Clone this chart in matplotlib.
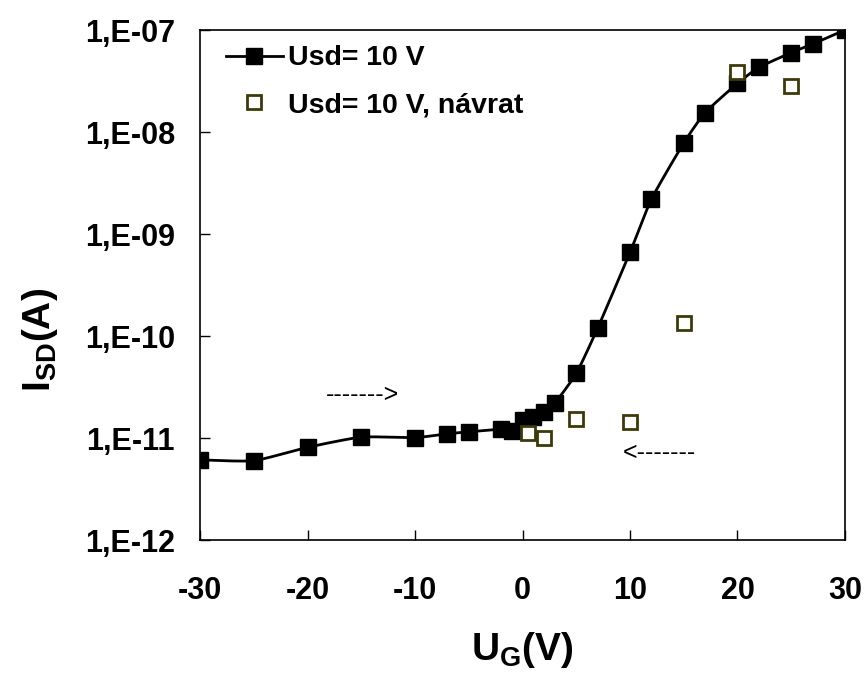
import numpy as np
import matplotlib
matplotlib.use("Agg")
import matplotlib.pyplot as plt
from matplotlib.lines import Line2D

plt.rcParams['font.family'] = ['Liberation Sans', 'DejaVu Sans']
plt.rcParams['font.weight'] = 'bold'
plt.rcParams['mathtext.fontset'] = 'custom'
plt.rcParams['mathtext.bf'] = 'Liberation Sans:bold'
plt.rcParams['mathtext.rm'] = 'Liberation Sans:bold'

# Forward sweep, Usd = 10 V
ug_fwd = [-30, -25, -20, -15, -10, -7, -5, -2, -1, 0, 1, 2, 3, 5, 7, 10, 12, 15, 17, 20, 22, 25, 27, 30]
isd_fwd = [6.1e-12, 6.0e-12, 8.1e-12, 1.02e-11, 1.01e-11, 1.1e-11, 1.15e-11, 1.22e-11, 1.18e-11,
           1.5e-11, 1.6e-11, 1.8e-11, 2.2e-11, 4.3e-11, 1.2e-10, 6.6e-10, 2.2e-09, 7.8e-09,
           1.55e-08, 3.0e-08, 4.3e-08, 6.0e-08, 7.3e-08, 1.0e-07]

# Return sweep, Usd = 10 V
ug_ret = [0.5, 2, 5, 10, 15, 20, 25]
isd_ret = [1.12e-11, 1.0e-11, 1.52e-11, 1.45e-11, 1.33e-10, 3.9e-08, 2.85e-08]

ytick_vals = [1e-12, 1e-11, 1e-10, 1e-9, 1e-8, 1e-7]
ytick_labels = ['1,E-12', '1,E-11', '1,E-10', '1,E-09', '1,E-08', '1,E-07']
xtick_vals = [-30, -20, -10, 0, 10, 20, 30]


def smooth_curve(x, y, n=30):
    """Cardinal spline through the points, in (x, log10 y)."""
    P = np.column_stack([np.asarray(x, float), np.log10(np.asarray(y, float))])
    P = np.vstack([2 * P[0] - P[1], P, 2 * P[-1] - P[-2]])
    t = np.linspace(0, 1, n)
    h00 = 2 * t**3 - 3 * t**2 + 1
    h10 = t**3 - 2 * t**2 + t
    h01 = -2 * t**3 + 3 * t**2
    h11 = t**3 - t**2
    out = []
    for i in range(1, len(P) - 2):
        p0, p1, p2, p3 = P[i - 1], P[i], P[i + 1], P[i + 2]
        m1 = (p2 - p0) / 2 * 0.6
        m2 = (p3 - p1) / 2 * 0.6
        out.append(np.outer(h00, p1) + np.outer(h10, m1) + np.outer(h01, p2) + np.outer(h11, m2))
    c = np.vstack(out)
    return c[:, 0], 10 ** c[:, 1]


fig = plt.figure(figsize=(8.64, 6.73), dpi=100)
ax = fig.add_axes([0.2315, 0.1976, 0.7465, 0.7578])

cx, cy = smooth_curve(ug_fwd, isd_fwd)
ax.plot(cx, cy, color='black', lw=2, zorder=2)
ax.plot(ug_fwd, isd_fwd, ls='none', marker='s', ms=11.5, mfc='black', mec='black', zorder=3)
ax.plot(ug_ret, isd_ret, ls='none', marker='s', ms=10.5, mfc='white', mec='#3d3a0a', mew=2, zorder=4)

ax.set_yscale('log')
ax.set_xlim(-30, 30)
ax.set_ylim(1e-12, 1e-7)
ax.set_xticks(xtick_vals)
ax.set_xticklabels([str(v) for v in xtick_vals])
ax.set_yticks(ytick_vals)
ax.set_yticklabels(ytick_labels)
ax.yaxis.set_minor_locator(matplotlib.ticker.NullLocator())
ax.tick_params(axis='both', direction='in', length=7, width=1, labelsize=22)
ax.tick_params(axis='y', pad=18)
ax.tick_params(axis='x', pad=26)
for lbl in ax.get_xticklabels() + ax.get_yticklabels():
    lbl.set_fontweight('bold')
for sp in ax.spines.values():
    sp.set_linewidth(1.2)

ax.set_xlabel(r'U$_\mathbf{G}$(V)', fontsize=28, fontweight='bold', labelpad=17)
ax.set_ylabel(r'I$_\mathbf{SD}$(A)', fontsize=28, fontweight='bold')
ax.yaxis.set_label_coords(-0.2177, 0.392)

ax.text(-18.3, 2.64e-11, '------->', fontsize=18, fontweight='normal', ha='left', va='center')
ax.text(9.3, 7.1e-12, '<-------', fontsize=18, fontweight='normal', ha='left', va='center')

handles = [
    Line2D([], [], color='black', lw=2, marker='s', ms=11.5, mfc='black', mec='black'),
    Line2D([], [], ls='none', marker='s', ms=10.5, mfc='white', mec='#3d3a0a', mew=2),
]
ax.legend(handles, ['Usd= 10 V', 'Usd= 10 V, návrat'], loc='upper left', frameon=False,
          prop={'size': 20.5, 'weight': 'bold'}, handlelength=2.0, handletextpad=0.2,
          labelspacing=0.73, borderaxespad=0.2, borderpad=0.2, bbox_to_anchor=(0.022, 0.992))

fig.savefig('out.png', dpi=100)
